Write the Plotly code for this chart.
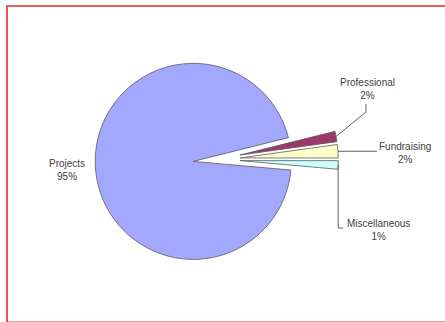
import math
import plotly.graph_objects as go

# ---- data ----
labels = ["Professional", "Fundraising", "Miscellaneous", "Projects"]
values = [1.7, 2.2, 1.4, 94.7]
colors = ["#9E3868", "#FFFFCC", "#CCFFFF", "#A3A8FF"]
pulls = [0.24, 0.24, 0.24, 0.24]

W, H = 445, 322
dom_x = [0.15, 0.824]
dom_y = [0.127, 0.882]
rotation = 76

fig = go.Figure(go.Pie(
    labels=labels, values=values, sort=False, direction="clockwise",
    rotation=rotation, pull=pulls, textinfo="none", hoverinfo="label+percent",
    marker=dict(colors=colors, line=dict(color="#5a5a5a", width=0.8)),
    domain=dict(x=dom_x, y=dom_y), showlegend=False,
))

# geometry matching plotly's pie layout, to anchor leader lines
rx = W * (dom_x[1] - dom_x[0])
ry = H * (dom_y[1] - dom_y[0])
r = min(rx, ry) / (2 + 2 * max(pulls))
cx = W * (dom_x[0] + dom_x[1]) / 2
cy = H * (1 - dom_y[0]) - ry / 2
total = sum(values)


def outer_point(i):
    cum = sum(values[:i])
    a = math.radians(rotation + 360 * (cum + values[i] / 2) / total)
    k = 1 + pulls[i]
    return cx + k * r * math.sin(a), cy - k * r * math.cos(a)


def px(x, y):
    return x / W, 1 - y / H


font = dict(family="Liberation Sans, Arial, sans-serif", size=10, color="#404040")
pct = [round(100 * v / total) for v in values]

# label positions (pixels)
label_pos = {0: (367, 88.5), 1: (405, 153.5), 2: (378, 229.5), 3: (67, 169.5)}
annotations = []
for i, (x, y) in label_pos.items():
    ax_, ay_ = px(x, y)
    annotations.append(dict(x=ax_, y=ay_, xref="paper", yref="paper",
                            xanchor="center", yanchor="middle",
                            text=f"{labels[i]}<br>{pct[i]}%", showarrow=False,
                            font=font, align="center"))

shapes = []
line_style = dict(color="#606060", width=1)


def path(points):
    pts = [px(x, y) for x, y in points]
    d = "M " + " L ".join(f"{x:.5f},{y:.5f}" for x, y in pts)
    return dict(type="path", path=d, xref="paper", yref="paper", line=line_style)


p0 = outer_point(0)
shapes.append(path([p0, (366, 112), (366, 104)]))
p1 = outer_point(1)
shapes.append(path([p1, (377, p1[1])]))
p2 = outer_point(2)
shapes.append(path([p2, (p2[0], 228), (343, 228)]))

# red frame
x0, y0 = px(7, 6)
x1, y1 = px(452, 322.3)
shapes.append(dict(type="rect", xref="paper", yref="paper", x0=x0, y0=y1, x1=x1, y1=y0,
                   line=dict(color="#E52B2B", width=1.6)))

fig.update_layout(
    width=W, height=H, margin=dict(l=0, r=0, t=0, b=0),
    paper_bgcolor="white", plot_bgcolor="white",
    annotations=annotations, shapes=shapes,
)
fig.write_html("out.html")
